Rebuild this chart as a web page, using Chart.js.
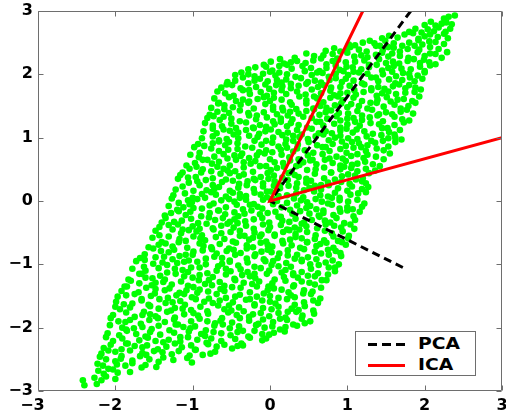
<!DOCTYPE html>
<html>
<head>
<meta charset="utf-8">
<script src="https://cdn.jsdelivr.net/npm/chart.js"></script>
<style>
html,body{margin:0;padding:0;background:#fff;}
#wrap{position:relative;width:506px;height:415px;overflow:hidden;}
#legend{position:absolute;left:355px;top:331px;width:121px;height:45px;box-sizing:border-box;border:1px solid #6e6e6e;background:#fff;}
.sample{position:absolute;left:12px;width:37px;height:3px;}
.dash{background:repeating-linear-gradient(to right,#000 0 9px,transparent 9px 14px);}
.solid{background:#ff0000;}
.lbl{position:absolute;left:62px;height:20px;line-height:20px;font-family:"DejaVu Sans",sans-serif;font-weight:bold;font-size:16px;color:#000;transform:scaleX(1.17);transform-origin:left center;white-space:nowrap;}
</style>
</head>
<body>
<div id="wrap">
<canvas id="c" width="506" height="415"></canvas>
<div id="legend">
  <div class="sample dash" style="top:11px"></div><span class="lbl" style="top:2px">PCA</span>
  <div class="sample solid" style="top:32px"></div><span class="lbl" style="top:23px">ICA</span>
</div>
</div>
<script>
// Axis ticks
const xTickValues = [-3, -2, -1, 0, 1, 2, 3];
const yTickValues = [-3, -2, -1, 0, 1, 2, 3];
const xTickLabels = ['\u22123', '\u22122', '\u22121', '0', '1', '2', '3'];
const yTickLabels = ['\u22123', '\u22122', '\u22121', '0', '1', '2', '3'];

// Direction lines (through the origin)
const pcaLine = [[1.82, 3.0], [0, 0], [1.75, -1.07]];
const icaLine = [[1.2, 3.0], [0, 0], [3.0, 1.0]];

// Mixed samples (green scatter)
const mixedSamples = [
[-2.42,-2.83],[-2.4,-2.91],[-2.24,-2.89],
[-2.27,-2.79],[-2.18,-2.83],[-2.12,-2.77],[-2.0,-2.81],
[-2.22,-2.68],[-2.15,-2.73],[-2.03,-2.66],[-1.97,-2.71],[-1.81,-2.7],
[-2.23,-2.57],[-2.16,-2.6],[-2.09,-2.65],[-1.98,-2.58],[-1.87,-2.6],[-1.78,-2.56],[-1.66,-2.63],[-1.61,-2.59],[-1.47,-2.62],
[-2.2,-2.46],[-2.12,-2.5],[-2.0,-2.53],[-1.93,-2.49],[-1.78,-2.52],[-1.68,-2.45],[-1.56,-2.5],[-1.44,-2.54],[-1.38,-2.47],[-1.25,-2.51],[-1.07,-2.48],[-1.01,-2.55],
[-2.18,-2.41],[-2.09,-2.36],[-2.0,-2.38],[-1.92,-2.45],[-1.81,-2.36],[-1.65,-2.4],[-1.6,-2.43],[-1.5,-2.37],[-1.39,-2.39],[-1.27,-2.42],[-1.18,-2.37],[-1.04,-2.44],[-0.96,-2.35],[-0.87,-2.43],[-0.77,-2.41],[-0.71,-2.38],
[-2.15,-2.32],[-2.06,-2.27],[-1.92,-2.34],[-1.84,-2.25],[-1.75,-2.29],[-1.65,-2.31],[-1.59,-2.28],[-1.45,-2.34],[-1.34,-2.3],[-1.23,-2.25],[-1.14,-2.31],[-1.02,-2.28],[-0.97,-2.35],[-0.8,-2.26],[-0.69,-2.3],[-0.59,-2.27],[-0.49,-2.33],[-0.42,-2.29],[-0.35,-2.28],
[-2.12,-2.15],[-2.03,-2.21],[-1.91,-2.17],[-1.86,-2.25],[-1.69,-2.2],[-1.58,-2.16],[-1.48,-2.21],[-1.38,-2.23],[-1.31,-2.19],[-1.16,-2.22],[-1.06,-2.15],[-0.94,-2.19],[-0.82,-2.24],[-0.76,-2.17],[-0.63,-2.21],[-0.45,-2.18],[-0.37,-2.25],[-0.26,-2.16],[-0.1,-2.2],[-0.05,-2.17],
[-2.1,-2.09],[-1.95,-2.12],[-1.85,-2.05],[-1.73,-2.1],[-1.61,-2.14],[-1.55,-2.07],[-1.42,-2.11],[-1.24,-2.08],[-1.16,-2.15],[-1.05,-2.06],[-0.89,-2.1],[-0.84,-2.13],[-0.73,-2.07],[-0.63,-2.09],[-0.51,-2.12],[-0.42,-2.07],[-0.28,-2.14],[-0.2,-2.05],[-0.1,-2.1],[-0.01,-2.11],[0.05,-2.08],[0.19,-2.06],
[-2.07,-1.96],[-1.91,-2.0],[-1.86,-2.03],[-1.76,-2.01],[-1.65,-1.99],[-1.53,-2.02],[-1.44,-1.97],[-1.3,-2.04],[-1.22,-1.95],[-1.12,-1.99],[-1.03,-2.01],[-0.97,-1.98],[-0.83,-2.04],[-0.72,-1.97],[-0.61,-1.95],[-0.52,-2.01],[-0.4,-1.98],[-0.35,-2.05],[-0.18,-1.96],[-0.07,-2.0],[0.03,-1.98],[0.13,-2.03],[0.2,-1.99],[0.35,-1.97],[0.45,-1.93],
[-2.06,-1.85],[-1.96,-1.9],[-1.87,-1.91],[-1.81,-1.88],[-1.67,-1.94],[-1.56,-1.88],[-1.45,-1.85],[-1.36,-1.91],[-1.24,-1.87],[-1.19,-1.95],[-1.02,-1.9],[-0.91,-1.86],[-0.81,-1.9],[-0.71,-1.93],[-0.64,-1.89],[-0.49,-1.92],[-0.39,-1.85],[-0.27,-1.89],[-0.15,-1.94],[-0.09,-1.87],[0.04,-1.91],[0.13,-1.86],[0.22,-1.88],[0.3,-1.95],[0.41,-1.86],[0.52,-1.9],
[-2.03,-1.8],[-1.86,-1.76],[-1.75,-1.83],[-1.65,-1.8],[-1.55,-1.79],[-1.48,-1.82],[-1.33,-1.75],[-1.23,-1.84],[-1.11,-1.79],[-0.99,-1.77],[-0.93,-1.81],[-0.8,-1.78],[-0.62,-1.85],[-0.54,-1.76],[-0.43,-1.8],[-0.27,-1.83],[-0.22,-1.79],[-0.12,-1.77],[-0.01,-1.82],[0.11,-1.77],[0.2,-1.84],[0.34,-1.75],[0.42,-1.81],[0.57,-1.78],
[-2.0,-1.67],[-1.94,-1.71],[-1.81,-1.68],[-1.63,-1.75],[-1.55,-1.66],[-1.44,-1.7],[-1.28,-1.73],[-1.23,-1.69],[-1.13,-1.7],[-1.02,-1.72],[-0.9,-1.67],[-0.81,-1.74],[-0.67,-1.65],[-0.59,-1.71],[-0.5,-1.73],[-0.4,-1.68],[-0.34,-1.74],[-0.2,-1.65],[-0.09,-1.69],[0.02,-1.71],[0.11,-1.67],[0.23,-1.75],[0.28,-1.7],[0.37,-1.72],[0.45,-1.66],[0.56,-1.73],
[-1.99,-1.59],[-1.89,-1.63],[-1.78,-1.62],[-1.66,-1.57],[-1.57,-1.64],[-1.43,-1.55],[-1.35,-1.61],[-1.26,-1.6],[-1.16,-1.58],[-1.1,-1.64],[-0.96,-1.55],[-0.85,-1.59],[-0.74,-1.61],[-0.65,-1.57],[-0.53,-1.65],[-0.48,-1.6],[-0.31,-1.56],[-0.2,-1.63],[-0.1,-1.57],[0.0,-1.59],[0.07,-1.62],[0.22,-1.55],[0.32,-1.64],[0.44,-1.6],[0.56,-1.57],[0.62,-1.61],
[-1.97,-1.51],[-1.86,-1.49],[-1.75,-1.47],[-1.66,-1.55],[-1.54,-1.5],[-1.49,-1.46],[-1.32,-1.53],[-1.21,-1.49],[-1.11,-1.47],[-1.01,-1.52],[-0.94,-1.45],[-0.79,-1.54],[-0.69,-1.47],[-0.57,-1.53],[-0.45,-1.51],[-0.39,-1.48],[-0.26,-1.55],[-0.17,-1.51],[-0.08,-1.46],[0.0,-1.5],[0.11,-1.53],[0.27,-1.49],[0.32,-1.52],[0.43,-1.46],[0.53,-1.47],[0.65,-1.54],
[-1.92,-1.42],[-1.85,-1.35],[-1.7,-1.44],[-1.6,-1.37],[-1.48,-1.39],[-1.36,-1.41],[-1.3,-1.38],[-1.17,-1.45],[-1.08,-1.41],[-0.99,-1.36],[-0.91,-1.4],[-0.8,-1.43],[-0.64,-1.39],[-0.59,-1.42],[-0.49,-1.36],[-0.38,-1.37],[-0.26,-1.44],[-0.17,-1.35],[-0.03,-1.41],[0.05,-1.38],[0.15,-1.4],[0.24,-1.44],[0.3,-1.35],[0.44,-1.41],[0.55,-1.43],[0.66,-1.37],
[-1.88,-1.35],[-1.8,-1.26],[-1.69,-1.3],[-1.53,-1.33],[-1.48,-1.29],[-1.38,-1.28],[-1.27,-1.32],[-1.15,-1.27],[-1.06,-1.34],[-0.92,-1.25],[-0.84,-1.31],[-0.75,-1.33],[-0.65,-1.28],[-0.59,-1.34],[-0.45,-1.25],[-0.34,-1.29],[-0.23,-1.31],[-0.14,-1.27],[-0.02,-1.35],[0.03,-1.3],[0.2,-1.26],[0.31,-1.33],[0.41,-1.27],[0.51,-1.29],[0.58,-1.32],[0.73,-1.25],
[-1.83,-1.24],[-1.69,-1.15],[-1.61,-1.21],[-1.52,-1.22],[-1.42,-1.18],[-1.36,-1.24],[-1.22,-1.15],[-1.11,-1.19],[-1.0,-1.21],[-0.91,-1.17],[-0.79,-1.25],[-0.74,-1.2],[-0.57,-1.16],[-0.46,-1.23],[-0.36,-1.17],[-0.26,-1.19],[-0.19,-1.22],[-0.04,-1.15],[0.06,-1.24],[0.18,-1.2],[0.3,-1.17],[0.36,-1.21],[0.49,-1.18],[0.58,-1.19],[0.67,-1.25],[0.75,-1.16],
[-1.78,-1.07],[-1.66,-1.15],[-1.61,-1.1],[-1.44,-1.06],[-1.33,-1.13],[-1.23,-1.07],[-1.13,-1.09],[-1.06,-1.12],[-0.91,-1.05],[-0.81,-1.14],[-0.69,-1.1],[-0.57,-1.07],[-0.51,-1.11],[-0.38,-1.08],[-0.29,-1.12],[-0.2,-1.15],[-0.12,-1.06],[-0.01,-1.1],[0.15,-1.13],[0.2,-1.09],[0.3,-1.14],[0.41,-1.12],[0.53,-1.07],[0.62,-1.14],[0.76,-1.05],[0.84,-1.11],
[-1.73,-0.95],[-1.63,-1.04],[-1.51,-0.99],[-1.39,-0.97],[-1.33,-1.01],[-1.2,-0.98],[-1.11,-0.96],[-1.02,-1.05],[-0.94,-0.96],[-0.83,-1.0],[-0.67,-1.03],[-0.62,-0.99],[-0.52,-0.96],[-0.41,-1.02],[-0.29,-0.97],[-0.2,-1.04],[-0.06,-0.95],[0.02,-1.01],[0.11,-1.03],[0.21,-0.98],[0.27,-1.04],[0.41,-0.95],[0.52,-1.0],[0.63,-1.01],[0.72,-0.97],[0.84,-1.05],[0.89,-1.0],
[-1.68,-0.9],[-1.62,-0.93],[-1.48,-0.89],[-1.37,-0.88],[-1.26,-0.92],[-1.17,-0.87],[-1.05,-0.94],[-1.0,-0.85],[-0.83,-0.91],[-0.72,-0.88],[-0.62,-0.9],[-0.52,-0.94],[-0.45,-0.85],[-0.3,-0.91],[-0.2,-0.87],[-0.08,-0.92],[0.04,-0.95],[0.1,-0.9],[0.23,-0.86],[0.32,-0.91],[0.41,-0.93],[0.49,-0.89],[0.6,-0.92],[0.76,-0.85],[0.81,-0.94],[0.92,-0.87],
[-1.62,-0.84],[-1.51,-0.75],[-1.41,-0.79],[-1.31,-0.81],[-1.24,-0.77],[-1.09,-0.85],[-0.99,-0.8],[-0.87,-0.78],[-0.75,-0.76],[-0.69,-0.83],[-0.56,-0.79],[-0.47,-0.77],[-0.38,-0.82],[-0.3,-0.75],[-0.19,-0.84],[-0.11,-0.8],[-0.03,-0.77],[0.02,-0.81],[0.12,-0.83],[0.23,-0.78],[0.35,-0.85],[0.44,-0.76],[0.58,-0.8],[0.66,-0.83],[0.75,-0.77],[0.85,-0.79],[0.91,-0.82],
[-1.57,-0.73],[-1.44,-0.69],[-1.35,-0.67],[-1.26,-0.72],[-1.18,-0.65],[-1.07,-0.74],[-0.91,-0.67],[-0.86,-0.71],[-0.76,-0.73],[-0.65,-0.68],[-0.53,-0.75],[-0.44,-0.66],[-0.3,-0.7],[-0.22,-0.73],[-0.12,-0.66],[-0.03,-0.69],[0.03,-0.72],[0.17,-0.67],[0.28,-0.7],[0.39,-0.74],[0.48,-0.65],[0.6,-0.71],[0.65,-0.68],[0.73,-0.66],[0.82,-0.74],[0.93,-0.65],[0.98,-0.69],
[-1.52,-0.58],[-1.4,-0.65],[-1.31,-0.56],[-1.17,-0.6],[-1.09,-0.63],[-0.99,-0.56],[-0.9,-0.59],[-0.84,-0.62],[-0.7,-0.57],[-0.59,-0.6],[-0.48,-0.64],[-0.39,-0.55],[-0.27,-0.61],[-0.22,-0.58],[-0.13,-0.56],[-0.05,-0.64],[0.06,-0.55],[0.16,-0.63],[0.26,-0.61],[0.33,-0.57],[0.41,-0.59],[0.48,-0.65],[0.58,-0.6],[0.7,-0.62],[0.82,-0.56],[0.88,-0.63],[1.01,-0.59],
[-1.48,-0.47],[-1.43,-0.54],[-1.26,-0.45],[-1.15,-0.51],[-1.05,-0.46],[-0.95,-0.48],[-0.88,-0.54],[-0.73,-0.45],[-0.63,-0.51],[-0.51,-0.49],[-0.39,-0.47],[-0.33,-0.55],[-0.2,-0.5],[-0.11,-0.53],[-0.02,-0.46],[0.06,-0.53],[0.17,-0.49],[0.25,-0.46],[0.33,-0.52],[0.38,-0.45],[0.48,-0.49],[0.59,-0.54],[0.71,-0.47],[0.8,-0.51],[0.94,-0.48],[1.02,-0.55],
[-1.43,-0.41],[-1.31,-0.38],[-1.19,-0.37],[-1.13,-0.45],[-1.0,-0.4],[-0.91,-0.44],[-0.82,-0.36],[-0.74,-0.43],[-0.63,-0.39],[-0.55,-0.36],[-0.47,-0.42],[-0.42,-0.35],[-0.31,-0.39],[-0.21,-0.44],[-0.09,-0.37],[0.0,-0.41],[0.14,-0.38],[0.22,-0.45],[0.32,-0.42],[0.41,-0.36],[0.47,-0.4],[0.61,-0.43],[0.72,-0.37],[0.83,-0.39],[0.92,-0.42],[1.04,-0.37],[1.09,-0.44],
[-1.4,-0.34],[-1.35,-0.27],[-1.24,-0.33],[-1.14,-0.31],[-1.02,-0.28],[-0.93,-0.35],[-0.79,-0.26],[-0.71,-0.3],[-0.61,-0.27],[-0.52,-0.33],[-0.46,-0.29],[-0.32,-0.32],[-0.21,-0.29],[-0.1,-0.27],[-0.01,-0.34],[0.11,-0.25],[0.16,-0.31],[0.25,-0.33],[0.33,-0.28],[0.44,-0.34],[0.54,-0.3],[0.64,-0.25],[0.71,-0.31],[0.78,-0.34],[0.86,-0.27],[0.96,-0.35],[1.1,-0.3],
[-1.36,-0.23],[-1.28,-0.19],[-1.18,-0.16],[-1.09,-0.22],[-1.03,-0.17],[-0.89,-0.24],[-0.78,-0.19],[-0.67,-0.15],[-0.58,-0.21],[-0.46,-0.18],[-0.41,-0.24],[-0.33,-0.2],[-0.24,-0.15],[-0.13,-0.21],[-0.03,-0.19],[0.07,-0.17],[0.14,-0.25],[0.29,-0.2],[0.39,-0.16],[0.51,-0.2],[0.63,-0.23],[0.69,-0.19],[0.82,-0.22],[0.91,-0.17],[1.0,-0.15],[1.08,-0.24],[1.16,-0.17],
[-1.31,-0.08],[-1.2,-0.14],[-1.12,-0.1],[-1.04,-0.05],[-0.99,-0.11],[-0.88,-0.12],[-0.78,-0.07],[-0.66,-0.15],[-0.57,-0.1],[-0.43,-0.06],[-0.35,-0.13],[-0.26,-0.06],[-0.16,-0.09],[-0.1,-0.12],[0.04,-0.05],[0.15,-0.1],[0.26,-0.14],[0.35,-0.07],[0.47,-0.11],[0.52,-0.08],[0.6,-0.13],[0.69,-0.15],[0.8,-0.06],[0.9,-0.12],[1.0,-0.1],[1.07,-0.13],[1.19,-0.09],
[-1.27,0.04],[-1.18,-0.03],[-1.06,0.01],[-1.01,-0.02],[-0.94,0.03],[-0.84,0.05],[-0.73,-0.04],[-0.63,0.01],[-0.53,0.03],[-0.46,-0.01],[-0.39,0.05],[-0.31,0.02],[-0.21,-0.05],[-0.09,0.02],[0.03,0.04],[0.09,0.0],[0.22,-0.03],[0.31,0.04],[0.4,0.01],[0.48,-0.02],[0.59,0.03],[0.67,-0.01],[0.75,-0.04],[0.8,0.05],[0.9,0.01],[1.01,-0.01],[1.13,0.02],[1.22,-0.04],
[-1.25,0.09],[-1.1,0.12],[-1.0,0.05],[-0.88,0.11],[-0.76,0.14],[-0.7,0.1],[-0.57,0.07],[-0.48,0.13],[-0.39,0.11],[-0.31,0.08],[-0.2,0.13],[-0.12,0.1],[-0.04,0.06],[0.01,0.15],[0.11,0.08],[0.22,0.09],[0.34,0.12],[0.43,0.06],[0.57,0.15],[0.65,0.09],[0.75,0.07],[0.84,0.13],[0.9,0.05],[1.04,0.1],[1.14,0.12],[1.24,0.14],
[-1.22,0.18],[-1.13,0.23],[-0.99,0.16],[-0.91,0.25],[-0.82,0.17],[-0.72,0.19],[-0.66,0.22],[-0.52,0.16],[-0.41,0.21],[-0.3,0.25],[-0.21,0.19],[-0.09,0.23],[-0.04,0.15],[0.05,0.24],[0.13,0.2],[0.24,0.24],[0.34,0.21],[0.44,0.17],[0.51,0.21],[0.58,0.24],[0.66,0.18],[0.76,0.25],[0.88,0.2],[1.0,0.16],[1.06,0.23],[1.19,0.19],[1.27,0.22],
[-1.19,0.35],[-1.05,0.29],[-0.94,0.31],[-0.83,0.33],[-0.74,0.25],[-0.62,0.3],[-0.57,0.34],[-0.48,0.32],[-0.4,0.27],[-0.29,0.31],[-0.19,0.33],[-0.09,0.28],[-0.02,0.35],[0.06,0.31],[0.13,0.26],[0.23,0.33],[0.35,0.28],[0.47,0.29],[0.53,0.32],[0.66,0.25],[0.75,0.29],[0.84,0.34],[0.92,0.3],[1.03,0.27],[1.11,0.34],[1.19,0.31],[1.24,0.28],
[-1.16,0.41],[-1.06,0.37],[-0.96,0.38],[-0.89,0.45],[-0.74,0.36],[-0.64,0.43],[-0.52,0.44],[-0.4,0.39],[-0.34,0.42],[-0.21,0.35],[-0.12,0.38],[-0.03,0.44],[0.05,0.4],[0.16,0.37],[0.24,0.44],[0.32,0.41],[0.37,0.38],[0.47,0.35],[0.58,0.43],[0.7,0.36],[0.79,0.45],[0.93,0.39],[1.01,0.42],[1.1,0.4],[1.2,0.36],[1.28,0.44],
[-1.13,0.45],[-1.04,0.51],[-0.95,0.54],[-0.87,0.5],[-0.76,0.47],[-0.68,0.54],[-0.6,0.51],[-0.55,0.48],[-0.45,0.47],[-0.34,0.53],[-0.22,0.46],[-0.13,0.55],[0.01,0.49],[0.09,0.52],[0.18,0.54],[0.28,0.46],[0.34,0.55],[0.48,0.49],[0.59,0.5],[0.7,0.53],[0.79,0.45],[0.91,0.5],[0.96,0.54],[1.05,0.52],[1.13,0.47],[1.24,0.51],[1.36,0.48],
[-1.08,0.56],[-0.97,0.6],[-0.87,0.65],[-0.75,0.59],[-0.66,0.62],[-0.52,0.56],[-0.44,0.65],[-0.34,0.61],[-0.25,0.59],[-0.19,0.63],[-0.05,0.55],[0.06,0.61],[0.17,0.6],[0.26,0.64],[0.38,0.57],[0.43,0.61],[0.52,0.64],[0.6,0.58],[0.71,0.65],[0.81,0.6],[0.91,0.56],[0.98,0.63],[1.06,0.57],[1.13,0.59],[1.23,0.62],[1.33,0.58],[1.42,0.55],
[-1.03,0.73],[-0.92,0.69],[-0.81,0.65],[-0.72,0.7],[-0.6,0.74],[-0.55,0.67],[-0.46,0.72],[-0.38,0.71],[-0.27,0.68],[-0.17,0.72],[-0.07,0.75],[0.0,0.66],[0.15,0.73],[0.25,0.69],[0.37,0.66],[0.49,0.72],[0.55,0.65],[0.68,0.74],[0.77,0.67],[0.86,0.7],[0.94,0.67],[1.05,0.71],[1.13,0.74],[1.21,0.68],[1.26,0.73],[1.37,0.7],[1.47,0.66],
[-0.98,0.85],[-0.91,0.76],[-0.76,0.83],[-0.66,0.79],[-0.54,0.81],[-0.42,0.82],[-0.36,0.75],[-0.23,0.84],[-0.14,0.77],[-0.05,0.8],[0.03,0.77],[0.14,0.81],[0.22,0.84],[0.3,0.78],[0.35,0.83],[0.45,0.8],[0.56,0.76],[0.68,0.85],[0.77,0.79],[0.91,0.82],[0.99,0.76],[1.08,0.84],[1.18,0.85],[1.24,0.79],[1.38,0.83],[1.47,0.8],[1.55,0.75],
[-0.93,0.9],[-0.85,0.87],[-0.74,0.91],[-0.66,0.94],[-0.58,0.88],[-0.53,0.93],[-0.42,0.91],[-0.32,0.86],[-0.2,0.95],[-0.11,0.89],[0.03,0.92],[0.11,0.86],[0.2,0.9],[0.3,0.95],[0.36,0.89],[0.5,0.93],[0.61,0.88],[0.72,0.85],[0.81,0.9],[0.93,0.94],[0.98,0.87],[1.06,0.93],[1.15,0.91],[1.26,0.88],[1.36,0.92],[1.46,0.95],[1.53,0.86],[1.62,0.93],
[-0.88,0.99],[-0.74,1.02],[-0.66,0.96],[-0.56,0.98],[-0.47,1.05],[-0.41,0.99],[-0.27,1.03],[-0.16,1.01],[-0.05,0.95],[0.04,1.0],[0.16,1.04],[0.21,0.97],[0.3,1.03],[0.38,1.01],[0.49,0.98],[0.59,1.02],[0.69,1.05],[0.76,0.96],[0.84,1.0],[0.91,1.03],[1.01,0.99],[1.13,0.98],[1.25,1.02],[1.31,0.95],[1.44,1.04],[1.53,0.99],[1.62,1.0],[1.7,0.97],
[-0.86,1.1],[-0.74,1.14],[-0.69,1.07],[-0.6,1.13],[-0.52,1.11],[-0.41,1.08],[-0.31,1.12],[-0.21,1.15],[-0.14,1.06],[-0.06,1.1],[0.01,1.13],[0.11,1.09],[0.23,1.08],[0.35,1.12],[0.41,1.05],[0.54,1.14],[0.63,1.07],[0.72,1.1],[0.8,1.07],[0.91,1.11],[0.99,1.14],[1.07,1.08],[1.12,1.13],[1.22,1.1],[1.33,1.06],[1.45,1.15],[1.54,1.09],[1.61,1.05],[1.68,1.12],
[-0.84,1.23],[-0.74,1.19],[-0.62,1.18],[-0.5,1.22],[-0.44,1.15],[-0.31,1.24],[-0.22,1.16],[-0.13,1.2],[-0.05,1.17],[0.06,1.21],[0.14,1.25],[0.22,1.18],[0.27,1.23],[0.37,1.2],[0.48,1.16],[0.6,1.25],[0.69,1.19],[0.83,1.22],[0.91,1.16],[1.0,1.21],[1.1,1.25],[1.16,1.19],[1.3,1.23],[1.41,1.21],[1.52,1.15],[1.61,1.2],[1.73,1.24],
[-0.81,1.31],[-0.73,1.34],[-0.65,1.28],[-0.6,1.33],[-0.5,1.3],[-0.39,1.26],[-0.27,1.35],[-0.18,1.29],[-0.04,1.32],[0.04,1.26],[0.14,1.3],[0.23,1.35],[0.29,1.29],[0.43,1.33],[0.54,1.31],[0.65,1.25],[0.74,1.3],[0.86,1.34],[0.91,1.27],[1.0,1.3],[1.08,1.31],[1.19,1.28],[1.29,1.32],[1.39,1.35],[1.46,1.26],[1.61,1.33],[1.71,1.29],[1.8,1.27],
[-0.78,1.36],[-0.68,1.41],[-0.59,1.45],[-0.53,1.39],[-0.39,1.43],[-0.28,1.39],[-0.17,1.35],[-0.08,1.4],[0.04,1.44],[0.09,1.37],[0.17,1.43],[0.26,1.41],[0.37,1.38],[0.47,1.42],[0.57,1.45],[0.64,1.36],[0.72,1.4],[0.79,1.43],[0.89,1.39],[1.01,1.38],[1.13,1.42],[1.19,1.35],[1.32,1.44],[1.41,1.37],[1.5,1.4],[1.58,1.37],[1.69,1.41],[1.77,1.44],[1.85,1.38],
[-0.76,1.47],[-0.67,1.54],[-0.59,1.51],[-0.48,1.48],[-0.38,1.52],[-0.28,1.55],[-0.21,1.46],[-0.06,1.53],[0.04,1.49],[0.16,1.47],[0.28,1.52],[0.34,1.45],[0.47,1.54],[0.56,1.46],[0.65,1.5],[0.73,1.47],[0.84,1.51],[0.92,1.54],[1.0,1.48],[1.05,1.53],[1.15,1.5],[1.26,1.46],[1.38,1.55],[1.47,1.49],[1.61,1.52],[1.69,1.46],[1.79,1.5],[1.88,1.55],
[-0.72,1.62],[-0.66,1.55],[-0.53,1.64],[-0.44,1.58],[-0.35,1.6],[-0.27,1.57],[-0.16,1.61],[-0.08,1.64],[0.0,1.58],[0.05,1.63],[0.15,1.6],[0.26,1.56],[0.38,1.65],[0.47,1.59],[0.61,1.62],[0.69,1.56],[0.78,1.63],[0.88,1.65],[0.94,1.59],[1.08,1.63],[1.19,1.58],[1.3,1.55],[1.39,1.6],[1.51,1.64],[1.56,1.57],[1.65,1.6],[1.73,1.61],[1.84,1.58],
[-0.68,1.73],[-0.58,1.7],[-0.47,1.66],[-0.35,1.75],[-0.26,1.69],[-0.12,1.72],[-0.04,1.66],[0.05,1.71],[0.15,1.75],[0.21,1.69],[0.35,1.73],[0.46,1.68],[0.57,1.65],[0.66,1.7],[0.78,1.74],[0.83,1.67],[0.91,1.7],[1.0,1.71],[1.11,1.68],[1.21,1.72],[1.31,1.75],[1.38,1.66],[1.45,1.7],[1.53,1.73],[1.63,1.69],[1.75,1.71],[1.87,1.72],[1.93,1.65],
[-0.63,1.79],[-0.56,1.84],[-0.49,1.83],[-0.38,1.78],[-0.27,1.75],[-0.18,1.8],[-0.06,1.84],[-0.01,1.77],[0.08,1.83],[0.16,1.81],[0.27,1.78],[0.37,1.82],[0.47,1.85],[0.54,1.76],[0.62,1.8],[0.69,1.83],[0.79,1.79],[0.91,1.8],[1.03,1.82],[1.09,1.75],[1.22,1.84],[1.31,1.78],[1.4,1.8],[1.48,1.77],[1.59,1.81],[1.67,1.84],[1.75,1.78],[1.8,1.83],[1.88,1.79],[1.95,1.76],
[-0.55,1.88],[-0.45,1.9],[-0.35,1.95],[-0.28,1.86],[-0.2,1.9],[-0.13,1.93],[-0.03,1.89],[0.09,1.91],[0.15,1.87],[0.21,1.92],[0.27,1.85],[0.4,1.94],[0.49,1.88],[0.58,1.9],[0.66,1.87],[0.77,1.91],[0.85,1.94],[0.93,1.88],[0.98,1.93],[1.08,1.9],[1.19,1.86],[1.31,1.95],[1.4,1.89],[1.54,1.92],[1.62,1.86],[1.71,1.91],[1.81,1.95],[1.87,1.89],[1.97,1.93],
[-0.45,1.99],[-0.37,2.03],[-0.28,2.0],[-0.2,1.97],[-0.09,2.01],[0.0,2.04],[0.07,1.98],[0.12,2.03],[0.22,2.0],[0.33,1.96],[0.45,2.05],[0.54,1.99],[0.61,2.03],[0.68,2.02],[0.76,1.96],[0.85,2.01],[0.95,2.05],[1.01,1.99],[1.08,2.04],[1.15,2.03],[1.26,2.01],[1.37,1.95],[1.46,2.0],[1.58,2.04],[1.63,1.97],[1.72,2.02],[1.8,2.01],[1.91,1.98],[2.0,2.03],
[-0.28,2.08],[-0.19,2.11],[-0.05,2.12],[0.03,2.06],[0.12,2.13],[0.22,2.15],[0.28,2.09],[0.42,2.13],[0.53,2.1],[0.64,2.05],[0.73,2.1],[0.85,2.14],[0.9,2.07],[0.99,2.12],[1.07,2.11],[1.18,2.08],[1.28,2.11],[1.38,2.15],[1.45,2.06],[1.53,2.1],[1.6,2.13],[1.7,2.09],[1.82,2.08],[1.94,2.12],[2.0,2.05],[2.07,2.14],
[-0.08,2.15],[0.01,2.2],[0.13,2.24],[0.18,2.17],[0.27,2.19],[0.35,2.21],[0.46,2.18],[0.56,2.22],[0.66,2.25],[0.73,2.16],[0.81,2.21],[0.88,2.23],[0.98,2.19],[1.1,2.2],[1.22,2.22],[1.28,2.15],[1.41,2.24],[1.5,2.18],[1.59,2.2],[1.67,2.17],[1.78,2.21],[1.86,2.24],[1.94,2.18],[1.99,2.23],[2.06,2.19],[2.14,2.16],
[0.32,2.26],[0.47,2.33],[0.57,2.29],[0.69,2.3],[0.81,2.32],[0.87,2.25],[1.0,2.34],[1.09,2.28],[1.18,2.3],[1.26,2.27],[1.37,2.31],[1.45,2.34],[1.53,2.28],[1.58,2.33],[1.68,2.29],[1.79,2.26],[1.91,2.35],[2.0,2.29],[2.07,2.33],[2.14,2.32],[2.22,2.26],
[0.72,2.37],[0.83,2.41],[0.91,2.36],[0.99,2.38],[1.04,2.43],[1.15,2.39],[1.25,2.36],[1.37,2.45],[1.46,2.39],[1.53,2.43],[1.6,2.42],[1.68,2.36],[1.78,2.4],[1.87,2.45],[1.93,2.39],[2.07,2.43],[2.18,2.4],[2.29,2.35],
[1.02,2.47],[1.1,2.46],[1.2,2.5],[1.29,2.53],[1.35,2.49],[1.42,2.45],[1.49,2.53],[1.6,2.49],[1.71,2.45],[1.8,2.5],[1.92,2.54],[1.97,2.47],[2.06,2.52],[2.14,2.51],[2.25,2.48],
[1.45,2.57],[1.54,2.61],[1.65,2.58],[1.74,2.63],[1.85,2.65],[1.92,2.56],[2.0,2.6],[2.07,2.63],[2.17,2.59],[2.25,2.64],[2.3,2.57],
[1.8,2.67],[1.88,2.72],[1.96,2.66],[2.04,2.71],[2.12,2.68],[2.18,2.74],[2.27,2.67],[2.33,2.72],
[2.0,2.78],[2.08,2.83],[2.14,2.77],[2.22,2.8],[2.28,2.82],[2.35,2.79],
[2.25,2.88],[2.31,2.91],[2.39,2.93]
];

const toXY = arr => arr.map(p => ({x: p[0], y: p[1]}));
const AXIS_GRAY = '#6e6e6e';

const boxPlugin = {
  id: 'matlabBox',
  afterDraw(chart) {
    const {ctx, chartArea: a, scales} = chart;
    ctx.save();
    ctx.strokeStyle = AXIS_GRAY;
    ctx.lineWidth = 1;
    ctx.beginPath();
    const L = a.left + 0.5, R = a.right - 0.5, T = a.top + 0.5, B = a.bottom - 0.5;
    ctx.moveTo(L, T); ctx.lineTo(R, T); ctx.lineTo(R, B); ctx.lineTo(L, B); ctx.closePath();
    const tl = 5;
    xTickValues.forEach(v => {
      const px = Math.round(scales.x.getPixelForValue(v)) + 0.5;
      ctx.moveTo(px, B); ctx.lineTo(px, B - tl);
      ctx.moveTo(px, T); ctx.lineTo(px, T + tl);
    });
    yTickValues.forEach(v => {
      const py = Math.round(scales.y.getPixelForValue(v)) + 0.5;
      ctx.moveTo(L, py); ctx.lineTo(L + tl, py);
      ctx.moveTo(R, py); ctx.lineTo(R - tl, py);
    });
    ctx.stroke();
    ctx.restore();
  }
};

const tickFont = {family: '"DejaVu Sans", sans-serif', size: 16, weight: 'bold'};

new Chart(document.getElementById('c'), {
  type: 'scatter',
  data: {
    datasets: [
      {label: 'ICA', data: toXY(icaLine), showLine: true, borderColor: '#ff0000', borderWidth: 3,
       pointRadius: 0, fill: false, borderJoinStyle: 'miter', order: 0},
      {label: 'PCA', data: toXY(pcaLine), showLine: true, borderColor: '#000000', borderWidth: 3,
       borderDash: [8, 5], pointRadius: 0, fill: false, order: 1},
      {label: 'samples', data: toXY(mixedSamples), backgroundColor: '#00ff00', borderWidth: 0,
       pointRadius: 3.3, pointHoverRadius: 3.3, order: 2}
    ]
  },
  options: {
    responsive: false,
    animation: false,
    devicePixelRatio: 1,
    events: [],
    layout: {padding: {top: 11, right: 4, left: 0, bottom: 0}},
    plugins: {legend: {display: false}, tooltip: {enabled: false}},
    scales: {
      x: {
        type: 'linear', min: -3, max: 3,
        afterBuildTicks: s => { s.ticks = xTickValues.map(v => ({value: v})); },
        ticks: {
          color: '#000', font: tickFont, padding: 5, maxRotation: 0, autoSkip: false,
          callback: (v, i) => xTickLabels[i] + (v < 0 ? '\u2007' : '')
        },
        grid: {display: false, drawTicks: false},
        border: {display: false},
        afterFit: s => { s.height = 24; s.paddingLeft = 0; s.paddingRight = 0; }
      },
      y: {
        type: 'linear', min: -3, max: 3,
        afterBuildTicks: s => { s.ticks = yTickValues.map(v => ({value: v})); },
        ticks: {color: '#000', font: tickFont, padding: 5, autoSkip: false,
          callback: (v, i) => yTickLabels[i]},
        grid: {display: false, drawTicks: false},
        border: {display: false},
        afterFit: s => { s.width = 38; s.paddingTop = 0; s.paddingBottom = 0; }
      }
    }
  },
  plugins: [boxPlugin]
});
</script>
</body>
</html>
